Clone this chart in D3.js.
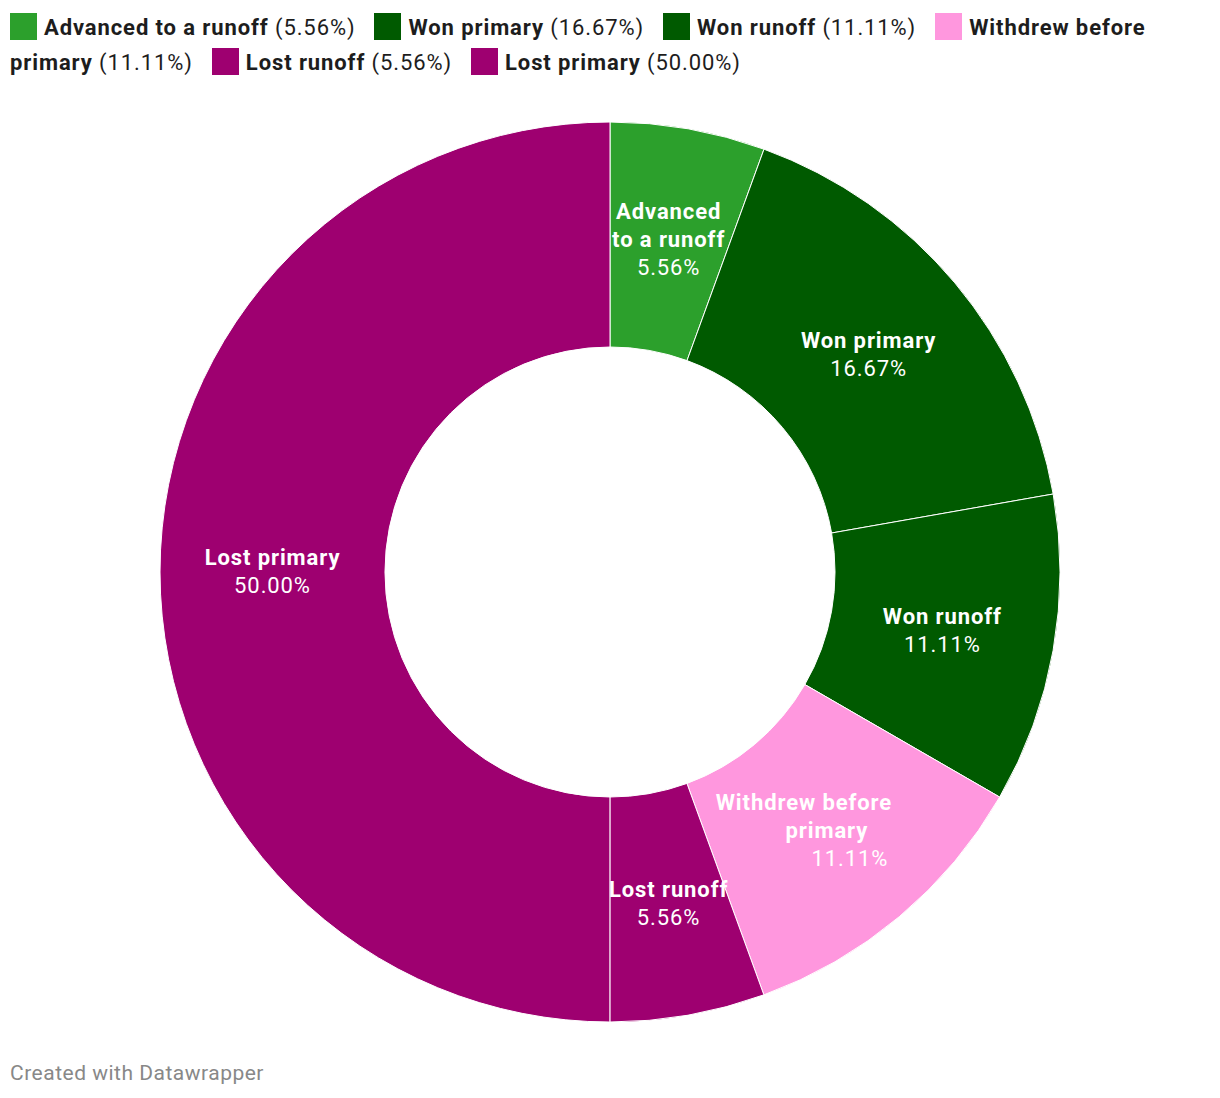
<!DOCTYPE html>
<html>
<head>
<meta charset="utf-8">
<script src="https://cdn.jsdelivr.net/npm/d3@7"></script>
<style>
  body { margin: 0; background: #fff; font-family: Roboto, "Noto Sans", sans-serif; }
  #chart { width: 1220px; height: 1098px; position: relative; }
  .legend { position: absolute; left: 10px; top: 10px; width: 1200px; font-size: 22px; letter-spacing: 0.9px; line-height: 35px; color: #1d1d1d; }
  .legend .item { margin-right: 19px; }
  .legend .swatch { display: inline-block; width: 27px; height: 27px; vertical-align: -5px; margin-right: 7px; }
  .legend b { font-weight: 700; }
  .footer { position: absolute; left: 10px; top: 1061px; font-size: 21px; letter-spacing: 0.5px; color: #888; }
</style>
</head>
<body>
<div id="chart"></div>
<script>
const categories = ["Advanced to a runoff", "Won primary", "Won runoff", "Withdrew before primary", "Lost runoff", "Lost primary"];
const values = [5.56, 16.67, 11.11, 11.11, 5.56, 50.00];
const colors = ["#2ca02c", "#005a00", "#005a00", "#ff97de", "#9e0070", "#9e0070"];

const data = categories.map((c, i) => ({ name: c, value: values[i], color: colors[i] }));

const width = 1220;
const height = 1098;
const cx = 610, cy = 572;
const outerR = 450, innerR = 225;

const container = d3.select("#chart");

// Légende en flux HTML (les libellés se coupent comme dans l'original)
const legend = container.append("div").attr("class", "legend");
data.forEach(d => {
    const item = legend.append("span").attr("class", "item");
    item.append("span").attr("class", "swatch").style("background", d.color);
    item.append("b").text(d.name);
    item.append("span").text(` (${d.value.toFixed(2)}%)`);
});

const svg = container.append("svg")
    .attr("width", width)
    .attr("height", height);

const g = svg.append("g")
    .attr("transform", `translate(${cx},${cy})`);

const pie = d3.pie().value(d => d.value).sort(null);
const arc = d3.arc().innerRadius(innerR).outerRadius(outerR);
const arcs = pie(data);

g.selectAll("path")
    .data(arcs)
    .join("path")
    .attr("d", arc)
    .attr("fill", d => d.data.color)
    .attr("stroke", "#fff")
    .attr("stroke-width", 1);

// Étiquettes au centre de chaque tranche
const midR = (innerR + outerR) / 2;
arcs.forEach((a, k) => {
    const [x, y] = arc.centroid(a);
    const chord = 2 * midR * Math.sin((a.endAngle - a.startAngle) / 2);
    const maxW = Math.max(125, chord * 0.8);

    const label = g.append("text")
        .attr("text-anchor", "middle")
        .attr("fill", "#fff")
        .attr("font-size", "22px")
        .attr("letter-spacing", "0.9px")
        .attr("font-family", "Roboto, sans-serif");

    // découpage des mots selon la largeur disponible
    const words = a.data.name.split(" ");
    const lines = [];
    let line = [];
    const probe = label.append("tspan").attr("font-weight", 700);
    words.forEach(w => {
        const test = line.concat(w).join(" ");
        probe.text(test);
        if (probe.node().getComputedTextLength() > maxW && line.length) {
            lines.push(line.join(" "));
            line = [w];
        } else {
            line.push(w);
        }
    });
    lines.push(line.join(" "));
    probe.remove();

    // l'original décale en escalier les lignes de l'étiquette « Withdrew »
    const stagger = lines.length > 1 && chord > 200 ? 23 : 0;

    const all = lines.length + 1;
    const lh = 28;
    const y0 = y - (all - 1) * lh / 2 + 7;
    lines.forEach((t, i) => {
        label.append("tspan")
            .attr("x", x + (i - (all - 1) / 2) * stagger)
            .attr("y", y0 + i * lh)
            .attr("font-weight", 700)
            .text(t);
    });
    label.append("tspan")
        .attr("x", x + (lines.length - (all - 1) / 2) * stagger)
        .attr("y", y0 + lines.length * lh)
        .attr("font-weight", 400)
        .text(`${a.data.value.toFixed(2)}%`);
});

container.append("div")
    .attr("class", "footer")
    .text("Created with Datawrapper");
</script>
</body>
</html>
